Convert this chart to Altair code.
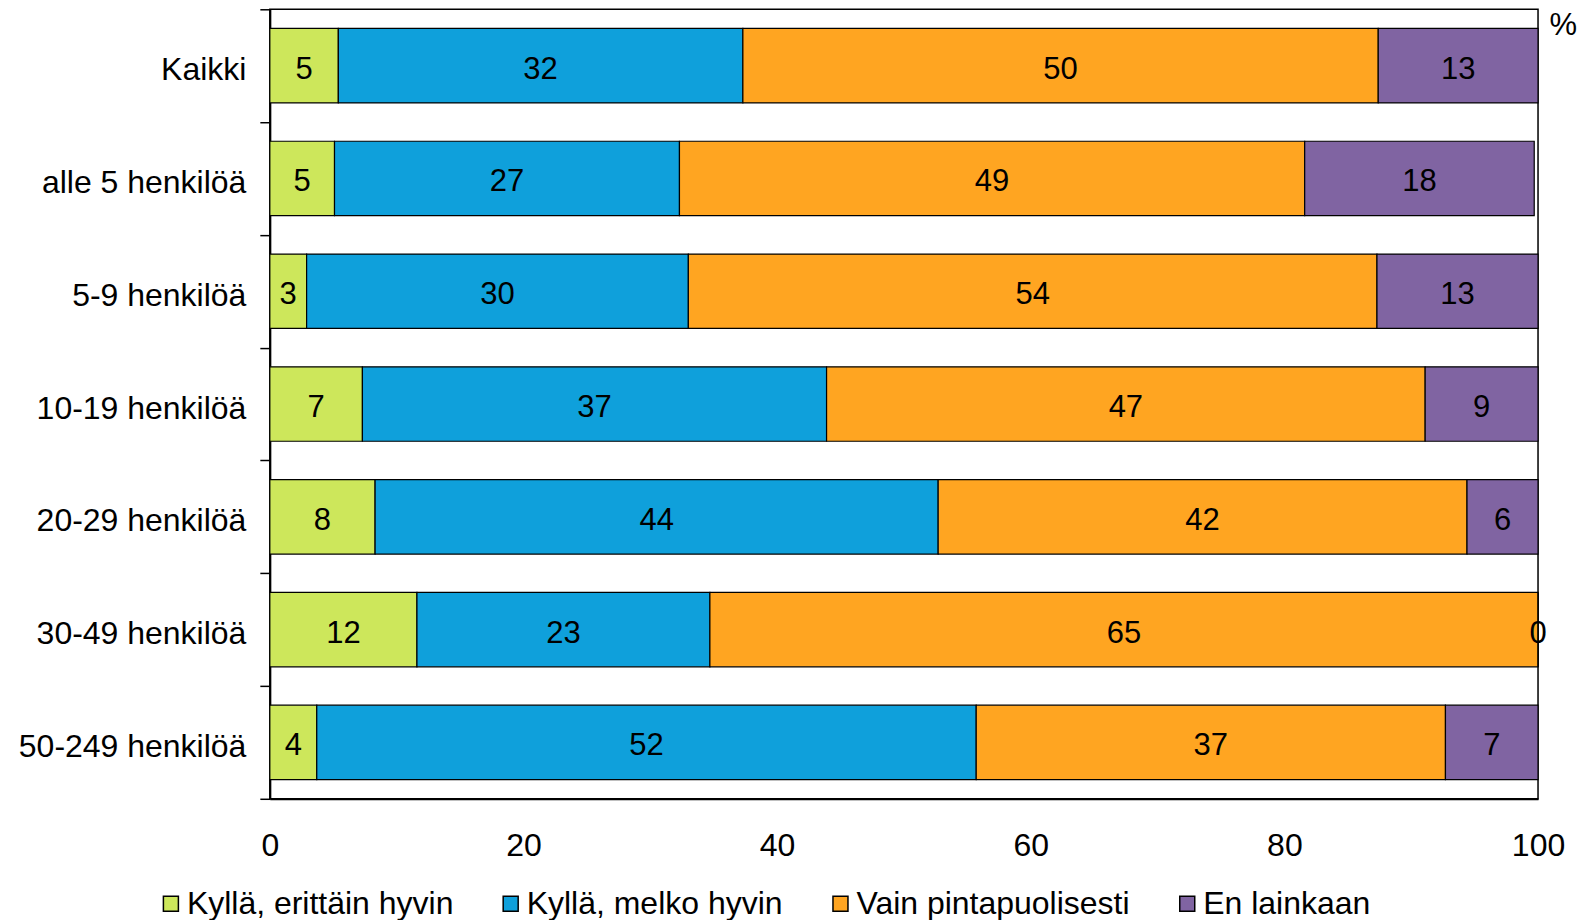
import altair as alt
import pandas as pd

FONT = "Liberation Sans, Arial, sans-serif"

categories = ["Kaikki", "alle 5 henkilöä", "5-9 henkilöä", "10-19 henkilöä",
              "20-29 henkilöä", "30-49 henkilöä", "50-249 henkilöä"]
series = ["Kyllä, erittäin hyvin", "Kyllä, melko hyvin", "Vain pintapuolisesti", "En lainkaan"]
colors = ["#CDE75B", "#0FA0DB", "#FFA521", "#8064A2"]

erittain_hyvin = [5.4, 5.1, 2.9, 7.3, 8.3, 11.6, 3.7]
melko_hyvin = [31.9, 27.2, 30.1, 36.6, 44.4, 23.1, 52.0]
pintapuolisesti = [50.1, 49.3, 54.3, 47.2, 41.7, 65.3, 37.0]
en_lainkaan = [12.6, 18.1, 12.7, 8.9, 5.6, 0.0, 7.3]
x_ticks = [0, 20, 40, 60, 80, 100]

rows = []
for s_idx, vals in enumerate([erittain_hyvin, melko_hyvin, pintapuolisesti, en_lainkaan]):
    for c, v in zip(categories, vals):
        rows.append({"category": c, "series": series[s_idx], "order": s_idx,
                     "value": v, "label": str(int(round(v)))})
df = pd.DataFrame(rows)

base = alt.Chart(df).transform_stack(
    stack="value", groupby=["category"], as_=["x0", "x1"],
    sort=[alt.SortField("order", order="ascending")]
).transform_calculate(mid="(datum.x0 + datum.x1) / 2")

y_axis = alt.Axis(title=None, tickBand="extent", ticks=True, tickSize=10,
                  tickColor="black", tickWidth=1.5,
                  labelPadding=14, labelFontSize=32, labelFont=FONT,
                  labelColor="black", labelLimit=500, labelOffset=4,
                  domainColor="black", domainWidth=2)
x_axis = alt.Axis(values=x_ticks, grid=False, ticks=False, labelPadding=47,
                  labelFlush=False,
                  labelBaseline="middle", labelFontSize=32, labelFont=FONT,
                  labelColor="black", domainColor="black", domainWidth=2,
                  title="%", titleX=1280, titleY=-774, titleAlign="left",
                  titleBaseline="middle", titleAngle=0, titleFontSize=31,
                  titleFont=FONT, titleFontWeight="normal", titleColor="black")
x_scale = alt.Scale(domain=[0, 100], nice=False)
y_scale = alt.Scale(paddingInner=0, paddingOuter=0)

bars = base.mark_bar(height={"band": 0.66}, stroke="black", strokeWidth=1.2).encode(
    x=alt.X("x0:Q", scale=x_scale, axis=x_axis),
    x2="x1:Q",
    y=alt.Y("category:N", sort=categories, scale=y_scale, axis=y_axis),
    color=alt.Color("series:N", scale=alt.Scale(domain=series, range=colors),
                    legend=alt.Legend(title=None, orient="none", legendX=-115, legendY=879,
                                      direction="horizontal", columns=4, symbolType="square",
                                      symbolSize=225, symbolStrokeColor="black",
                                      symbolStrokeWidth=1.5, labelFontSize=32,
                                      labelFont=FONT, labelColor="black", labelOffset=0,
                                      columnPadding=41, labelLimit=500, padding=0)),
)

text = base.mark_text(fontSize=31, font=FONT, color="black", dy=4).encode(
    x=alt.X("mid:Q", scale=x_scale, axis=x_axis),
    y=alt.Y("category:N", sort=categories, scale=y_scale, axis=y_axis),
    text="label:N",
)

chart = alt.layer(bars, text).properties(
    width=1269, height=790,
    background="white",
    autosize=alt.AutoSizeParams(type="none"),
    padding={"left": 262, "top": 1, "right": 45, "bottom": 126},
).configure_view(stroke="#000000", strokeWidth=1.5)

chart.save("out.html", embed_options={"renderer": "svg", "actions": False})
